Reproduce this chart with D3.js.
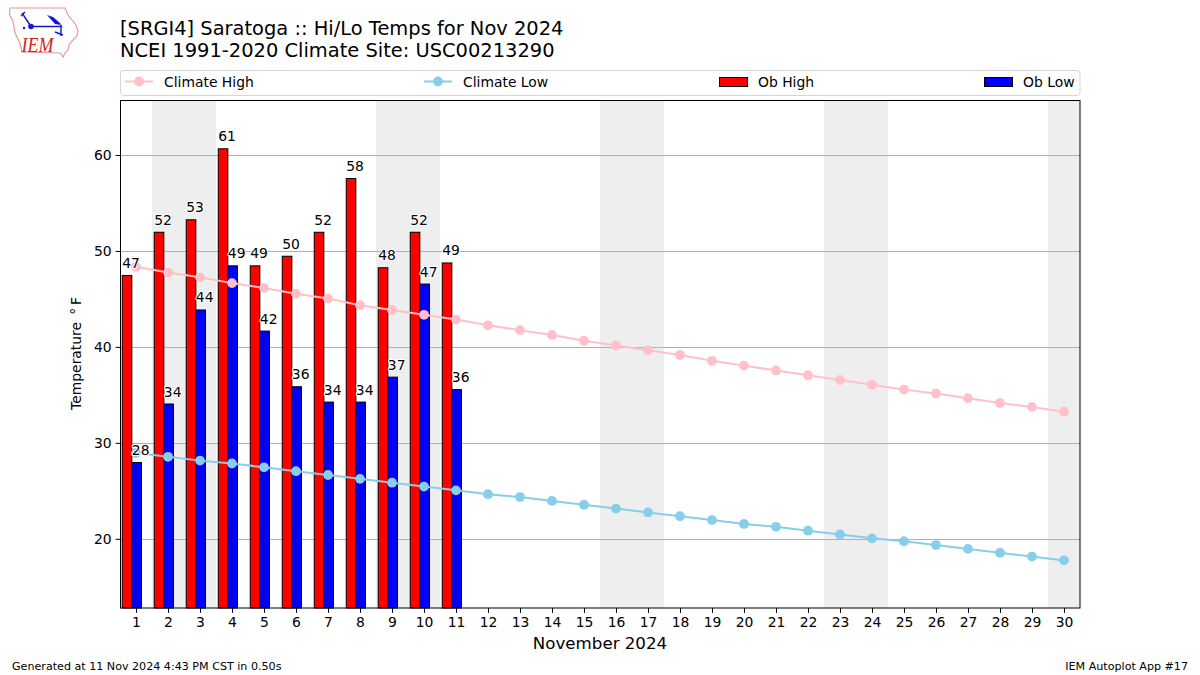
<!DOCTYPE html>
<html><head><meta charset="utf-8">
<script src="https://cdn.jsdelivr.net/npm/d3@7/dist/d3.min.js"></script>
<style>html,body{margin:0;padding:0;background:#fff}svg{display:block}text{font-family:"DejaVu Sans",sans-serif;fill:#000}</style>
</head><body><svg id="c" width="1200" height="675"></svg>
<script>
const days = d3.range(1, 31);
const obDays = d3.range(1, 12);
const weekendSpans = [[1.5,3.5],[8.5,10.5],[15.5,17.5],[22.5,24.5],[29.5,30.5]];
const yTicks = [20,30,40,50,60];
const obHigh = [47.5,52,53.3,60.7,48.5,49.5,52,57.6,48.3,52,48.8];
const obLow = [28,34.1,43.9,48.5,41.7,35.9,34.3,34.3,36.9,46.6,35.6];
const obHighLabels = ["47","52","53","61","49","50","52","58","48","52","49"];
const obLowLabels = ["28","34","44","49","42","36","34","34","37","47","36"];
const climateHigh = [48.4,47.8,47.3,46.7,46.2,45.6,45.1,44.4,43.9,43.4,42.9,42.3,41.8,41.3,40.7,40.2,39.7,39.2,38.6,38.1,37.6,37.1,36.6,36.1,35.6,35.2,34.7,34.2,33.8,33.3];
const climateLow = [29,28.6,28.2,27.9,27.5,27.1,26.7,26.3,25.9,25.5,25.1,24.7,24.4,24,23.6,23.2,22.8,22.4,22,21.6,21.3,20.9,20.5,20.1,19.8,19.4,19,18.6,18.2,17.8];

const svg = d3.select("#c");
const L=120.5,R=1080,T=100.5,B=608;
const x = d3.scaleLinear().domain([0.5,30.5]).range([120,1080]);
const y = d3.scaleLinear().domain([20,60]).range([539.3,155.5]);

// logo
const logo = svg.append("g");
logo.append("path").attr("d","M10,8 L65,8 L68,15 L72,20 L76,25 L78,31 L77,36 L72,41 L69,45 L68,50 L65,53 L63,57 L60,53 L22,52 L20,43 L15,33 L13,21 L9.5,15 Z")
 .attr("fill","#fff").attr("stroke","#e29a9a").attr("stroke-width",1.2);
logo.append("path").attr("d","M31,26.5 L62,26.5 M61,25 L61,36 M55,32 L63,35 M22,13 L30,25 M21,16 L25,12")
 .attr("fill","none").attr("stroke","#1616d0").attr("stroke-width",1.4);
logo.append("path").attr("d","M47,15 L53,17 L60,23 L61,25 L55,24 Z").attr("fill","#1616d0");
logo.append("circle").attr("cx",31).attr("cy",26.5).attr("r",2.8).attr("fill","#1616d0");
logo.append("circle").attr("cx",24).attr("cy",28).attr("r",1.2).attr("fill","#1616d0");
logo.append("text").attr("x",21.5).attr("y",52).attr("font-size",21).attr("font-style","italic")
 .attr("textLength",32).attr("lengthAdjust","spacingAndGlyphs")
 .style("font-family","'Liberation Serif',serif").style("fill","#d42020").text("IEM");

// titles
svg.append("text").attr("x",120).attr("y",35).attr("font-size",19.44).text("[SRGI4] Saratoga :: Hi/Lo Temps for Nov 2024");
svg.append("text").attr("x",120).attr("y",56.5).attr("font-size",19.44).text("NCEI 1991-2020 Climate Site: USC00213290");

// weekend shading
svg.append("g").selectAll("rect").data(weekendSpans).join("rect")
 .attr("x",d=>x(d[0])).attr("width",d=>x(d[1])-x(d[0])).attr("y",T).attr("height",B-T).attr("fill","#eeeeee");

// grid
const snap = v => Math.floor(v)+0.5;
svg.append("g").selectAll("line").data(yTicks).join("line")
 .attr("x1",L).attr("x2",R).attr("y1",d=>snap(y(d))).attr("y2",d=>snap(y(d))).attr("stroke","#b0b0b0").attr("stroke-width",1);

// bars
const barW = x(0.3)-x(0);
const bars = (vals,off,col)=>svg.append("g").selectAll("rect").data(vals).join("rect")
 .attr("x",(d,i)=>x(obDays[i]+off)).attr("width",barW)
 .attr("y",d=>y(d)).attr("height",d=>B-y(d))
 .attr("fill",col).attr("stroke","#000").attr("stroke-width",1);
bars(obHigh,-0.43,"#ff0000");
bars(obLow,-0.13,"#0000ff");

// climate lines
const line = d3.line().x((d,i)=>x(days[i])).y(d=>y(d));
const series = (vals,col)=>{
 svg.append("path").datum(vals).attr("d",line).attr("fill","none").attr("stroke",col).attr("stroke-width",2);
 svg.append("g").selectAll("circle").data(vals).join("circle")
  .attr("cx",(d,i)=>x(days[i])).attr("cy",d=>y(d)).attr("r",4.9).attr("fill",col);
};
series(climateHigh,"#ffc0cb");
series(climateLow,"#87ceeb");

// bar labels
const labels = (vals,txt,off)=>svg.append("g").selectAll("text").data(vals).join("text")
 .attr("x",(d,i)=>x(obDays[i]+off)).attr("y",d=>y(d)-7.5)
 .attr("font-size",13.9).attr("text-anchor","start")
 .attr("stroke","#fff").attr("stroke-width",2).attr("paint-order","stroke").attr("stroke-linejoin","round")
 .text((d,i)=>txt[i]);
labels(obHigh,obHighLabels,-0.43);
labels(obLow,obLowLabels,-0.13);

// frame
svg.append("rect").attr("x",L).attr("y",T).attr("width",R-L).attr("height",B-T).attr("fill","none").attr("stroke","#000").attr("stroke-width",1);

// axes
const xAxis = d3.axisBottom(x).tickValues(days).tickFormat(d3.format("d")).tickSize(4.9).tickPadding(4);
const gx = svg.append("g").attr("transform",`translate(0,${B})`).call(xAxis);
const yAxis = d3.axisLeft(y).tickValues(yTicks).tickSize(4.9).tickPadding(4).offset(0);
const gy = svg.append("g").attr("transform",`translate(${L},0)`).call(yAxis);
[gx,gy].forEach(g=>{g.select(".domain").remove();g.selectAll("text").attr("font-size",13.9).style("font-family","'DejaVu Sans'").attr("fill","#000");g.selectAll("line").attr("stroke","#000");});

svg.append("text").attr("x",600).attr("y",649).attr("text-anchor","middle").attr("font-size",16.67).text("November 2024");
svg.append("text").attr("transform","translate(80.5,353.5) rotate(-90)").attr("text-anchor","middle").attr("font-size",13.9).text("Temperature \u2009\u00B0\u2009F");

// legend
svg.append("rect").attr("x",120.5).attr("y",70.5).attr("width",959.5).attr("height",25).attr("rx",3).attr("fill","#fff").attr("stroke","#d5d5d5");
const legendNames = ["Climate High","Climate Low","Ob High","Ob Low"];
const legendColors = ["#ffc0cb","#87ceeb","#ff0000","#0000ff"];
const legendX = [125,424,719,984];
legendNames.forEach((n,i)=>{
 const lx=legendX[i], ly=81.5;
 if(i<2){
  svg.append("line").attr("x1",lx).attr("x2",lx+28).attr("y1",ly).attr("y2",ly).attr("stroke",legendColors[i]).attr("stroke-width",2);
  svg.append("circle").attr("cx",lx+14).attr("cy",ly).attr("r",4.9).attr("fill",legendColors[i]);
 } else {
  svg.append("rect").attr("x",lx+0.5).attr("y",77.5).attr("width",28).attr("height",9).attr("fill",legendColors[i]).attr("stroke","#000");
 }
 svg.append("text").attr("x",lx+39).attr("y",86.5).attr("font-size",13.9).text(n);
});

// footer
svg.append("text").attr("x",12).attr("y",670).attr("font-size",11.11).text("Generated at 11 Nov 2024 4:43 PM CST in 0.50s");
svg.append("text").attr("x",1188).attr("y",670).attr("text-anchor","end").attr("font-size",11.11).text("IEM Autoplot App #17");
</script></body></html>
